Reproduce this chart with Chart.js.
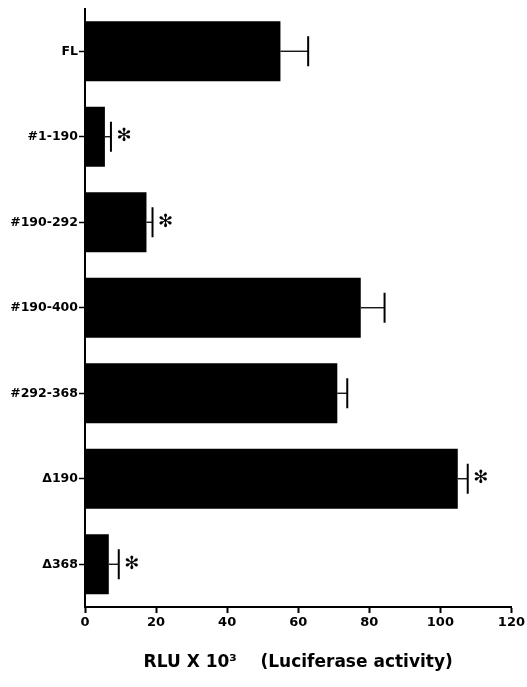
<!DOCTYPE html>
<html>
<head>
<meta charset="utf-8">
<script src="https://cdn.jsdelivr.net/npm/chart.js@4/dist/chart.umd.min.js"></script>
<style>
html,body{margin:0;padding:0;background:#fff;}
#wrap{width:527px;height:687px;position:relative;}
</style>
</head>
<body>
<div id="wrap"><canvas id="c" width="527" height="687"></canvas></div>
<script>
const categories = ['FL', '#1-190', '#190-292', '#190-400', '#292-368', 'Δ190', 'Δ368'];
const values = [55, 5.6, 17.3, 77.6, 71.0, 104.9, 6.7];
const errors = [7.8, 1.7, 1.7, 6.7, 2.8, 2.8, 2.8];
const significant = [false, true, true, false, false, true, true];
const xTicks = [0, 20, 40, 60, 80, 100, 120];
const xTitle = 'RLU X 10³    (Luciferase activity)';

const FONT = '"DejaVu Sans", sans-serif';

const errPlugin = {
  id: 'errbars',
  afterDatasetsDraw(chart) {
    const ctx = chart.ctx;
    const xs = chart.scales.x;
    const meta = chart.getDatasetMeta(0);
    ctx.save();
    ctx.strokeStyle = '#000';
    meta.data.forEach((bar, i) => {
      const y = bar.y;
      const x0 = xs.getPixelForValue(values[i]);
      const x1 = xs.getPixelForValue(values[i] + errors[i]);
      ctx.lineWidth = 1.3;
      ctx.beginPath();
      ctx.moveTo(x0, y);
      ctx.lineTo(x1, y);
      ctx.stroke();
      ctx.lineWidth = 2;
      ctx.beginPath();
      ctx.moveTo(x1, y - 15);
      ctx.lineTo(x1, y + 15);
      ctx.stroke();
      if (significant[i]) {
        ctx.fillStyle = '#000';
        ctx.font = 'bold 18px ' + FONT;
        ctx.textAlign = 'center';
        ctx.textBaseline = 'middle';
        ctx.fillText('✻', x1 + 13, y);
      }
    });
    ctx.restore();
  }
};

new Chart(document.getElementById('c'), {
  type: 'bar',
  data: {
    labels: categories,
    datasets: [{
      data: values,
      backgroundColor: '#000',
      borderWidth: 0,
      barPercentage: 0.7,
      categoryPercentage: 1.0
    }]
  },
  options: {
    indexAxis: 'y',
    responsive: false,
    animation: false,
    devicePixelRatio: 1,
    layout: { padding: { top: 5, right: 14, left: 0, bottom: 0 } },
    plugins: { legend: { display: false }, tooltip: { enabled: false } },
    scales: {
      x: {
        type: 'linear',
        min: 0, max: 120,
        afterBuildTicks(scale) { scale.ticks = xTicks.map(v => ({ value: v })); },
        afterFit(scale) { scale.height = 80; },
        grid: { drawOnChartArea: false, drawTicks: true, tickLength: 6, tickWidth: 2, tickColor: '#000' },
        border: { display: true, color: '#000', width: 2 },
        ticks: { color: '#000', font: { family: FONT, weight: 'bold', size: 13 }, padding: 2, maxRotation: 0 },
        title: { display: true, text: xTitle, color: '#000', font: { family: FONT, weight: 'bold', size: 17 }, padding: { top: 4, bottom: 14 } }
      },
      y: {
        type: 'category',
        afterFit(scale) { scale.width = 85; },
        grid: { drawOnChartArea: false, drawTicks: true, tickLength: 6, tickWidth: 1.5, tickColor: '#000', offset: false },
        border: { display: true, color: '#000', width: 2 },
        ticks: { color: '#000', font: { family: FONT, weight: 'bold', size: 12.5 }, padding: 1 }
      }
    }
  },
  plugins: [errPlugin]
});
</script>
</body>
</html>
